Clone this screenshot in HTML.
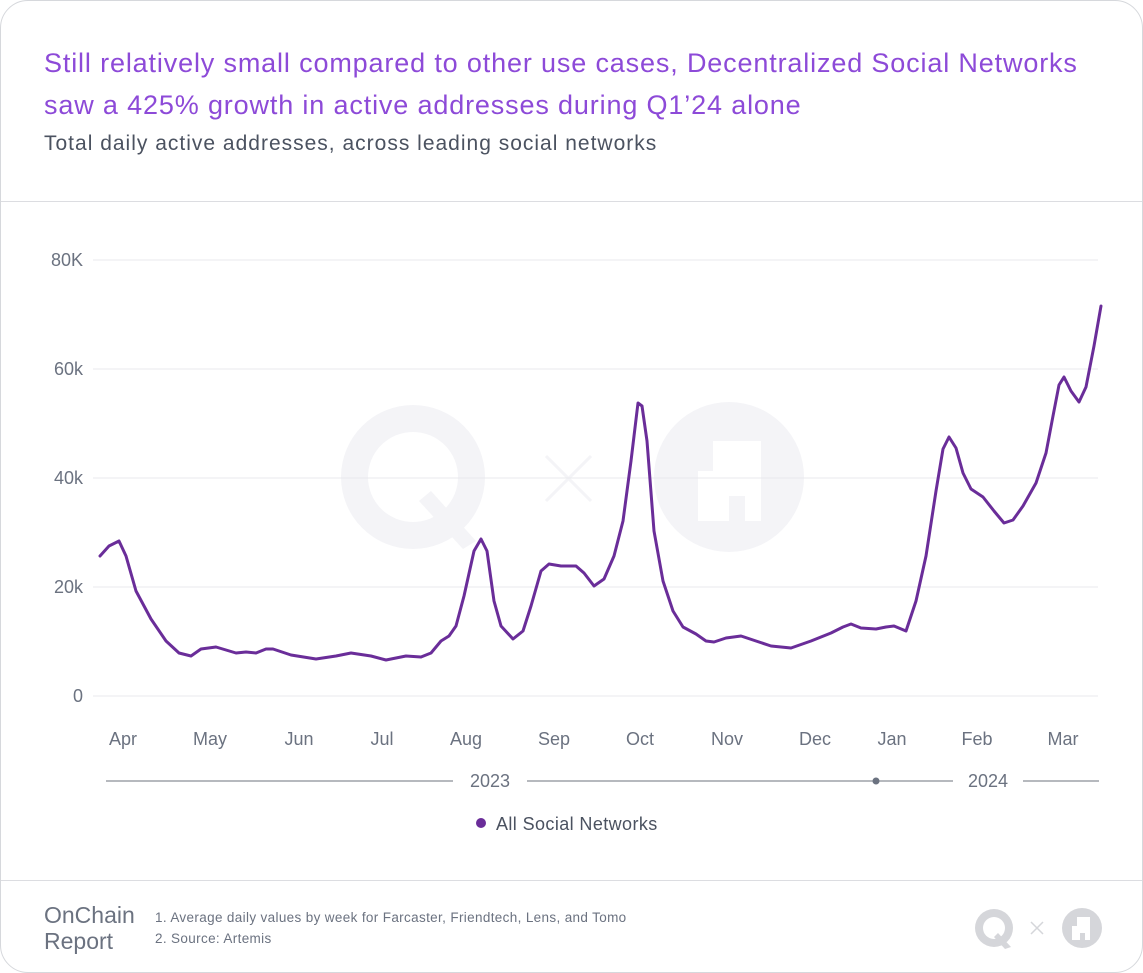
<!DOCTYPE html>
<html><head><meta charset="utf-8"><style>
body{margin:0;background:#fff;width:1143px;height:973px;overflow:hidden;font-family:"Liberation Sans",sans-serif}
.card{position:absolute;left:0;top:0;width:1141px;height:971px;border:1px solid #d6d8dc;border-radius:28px;background:#fff;overflow:hidden}
.t{position:absolute;left:43px;color:#8d4ad8;font-size:27px;letter-spacing:0.85px;white-space:nowrap}
.sub{position:absolute;left:43px;top:131px;color:#4b5260;font-size:21px;letter-spacing:1px;white-space:nowrap}
.hdr{position:absolute;left:0;top:200px;width:1143px;border-top:1px solid #dcdde1}
.ftr{position:absolute;left:0;top:879px;width:1143px;border-top:1px solid #dcdde1}
</style></head><body><div class="card">
<div class="t" style="top:47px">Still relatively small compared to other use cases, Decentralized Social Networks</div>
<div class="t" style="top:89px">saw a 425% growth in active addresses during Q1’24 alone</div>
<div class="sub">Total daily active addresses, across leading social networks</div>
<div class="hdr"></div>
<svg width="1143" height="973" style="position:absolute;left:0;top:0" font-family="Liberation Sans, sans-serif">
<g fill="#f4f4f7">
<circle cx="412" cy="476" r="72"/><circle cx="728" cy="476" r="75"/>
</g>
<circle cx="412" cy="476" r="45" fill="#fff"/>
<path d="M430 490 L475 540 L462 548 L418 500Z" fill="#f4f4f7"/>
<path d="M545 455 L590 500 M590 455 L545 500" stroke="#f4f4f7" stroke-width="3"/>
<path d="M697 470h15v-30h48v80h-16v-25h-16v25h-31z" fill="#fff"/>
<g stroke="#e8e9ec" stroke-width="1">
<line x1="92" y1="259" x2="1097" y2="259"/><line x1="92" y1="368" x2="1097" y2="368"/>
<line x1="92" y1="477" x2="1097" y2="477"/><line x1="92" y1="586" x2="1097" y2="586"/>
<line x1="92" y1="695" x2="1097" y2="695"/></g>
<g fill="#6b7280" font-size="18" text-anchor="end">
<text x="82" y="265">80K</text><text x="82" y="374">60k</text><text x="82" y="483">40k</text><text x="82" y="592">20k</text><text x="82" y="701">0</text></g>
<g fill="#6b7280" font-size="18" text-anchor="middle">
<text x="122" y="744">Apr</text><text x="209" y="744">May</text><text x="298" y="744">Jun</text><text x="381" y="744">Jul</text><text x="465" y="744">Aug</text><text x="553" y="744">Sep</text><text x="639" y="744">Oct</text><text x="726" y="744">Nov</text><text x="814" y="744">Dec</text><text x="891" y="744">Jan</text><text x="976" y="744">Feb</text><text x="1062" y="744">Mar</text>
<text x="489" y="786">2023</text><text x="987" y="786">2024</text></g>
<g stroke="#8a8f98" stroke-width="1.3"><line x1="105" y1="780" x2="452" y2="780"/><line x1="526" y1="780" x2="952" y2="780"/><line x1="1022" y1="780" x2="1098" y2="780"/></g>
<circle cx="875" cy="780" r="3.5" fill="#6b7280"/>
<polyline fill="none" stroke="#6a2d99" stroke-width="3" stroke-linejoin="round" stroke-linecap="round" points="99,555 108,545 118,540 125,555 135,590 150,618 165,640 178,652 190,655 200,648 215,646 235,652 245,651 255,652 265,648 272,648 290,654 315,658 335,655 350,652 370,655 385,659 405,655 420,656 430,652 440,640 448,635 455,625 463,595 473,550 480,538 486,550 493,600 500,625 512,638 522,630 530,605 540,570 548,563 560,565 575,565 583,572 593,585 603,578 613,555 622,520 630,460 637,402 641,405 646,440 653,530 662,580 672,610 682,626 695,633 705,640 713,641 725,637 740,635 755,640 770,645 790,647 810,640 830,632 842,626 850,623 860,627 875,628 885,626 893,625 905,630 915,600 925,555 935,490 942,448 948,436 955,447 962,472 970,488 982,496 993,510 1003,522 1012,519 1022,505 1035,482 1045,452 1052,415 1058,384 1063,376 1070,390 1078,401 1085,386 1093,345 1100,305"/>
<circle cx="480" cy="822" r="5" fill="#6a2d99"/>
<text x="495" y="829" font-size="18" fill="#4b5260" letter-spacing="0.4">All Social Networks</text>
<text x="43" y="922" font-size="23" fill="#6b7280">OnChain</text>
<text x="43" y="948" font-size="23" fill="#6b7280">Report</text>
<text x="154" y="921" font-size="13.5" fill="#6b7280" letter-spacing="0.35">1. Average daily values by week for Farcaster, Friendtech, Lens, and Tomo</text>
<text x="154" y="942" font-size="13.5" fill="#6b7280" letter-spacing="0.35">2. Source: Artemis</text>
<circle cx="993" cy="927" r="19" fill="#d5d6da"/><circle cx="993" cy="927" r="11" fill="#fff"/>
<path d="M997 932 L1010 946 L1004 948 L993 936Z" fill="#d5d6da"/>
<path d="M1030 921 L1042 933 M1042 921 L1030 933" stroke="#d5d6da" stroke-width="1.5"/>
<circle cx="1081" cy="927" r="20" fill="#d5d6da"/>
<path d="M1071 925h5v-9h13v23h-5v-7h-5v7h-8z" fill="#fff"/>
</svg>
<div class="ftr"></div>
</div></body></html>
